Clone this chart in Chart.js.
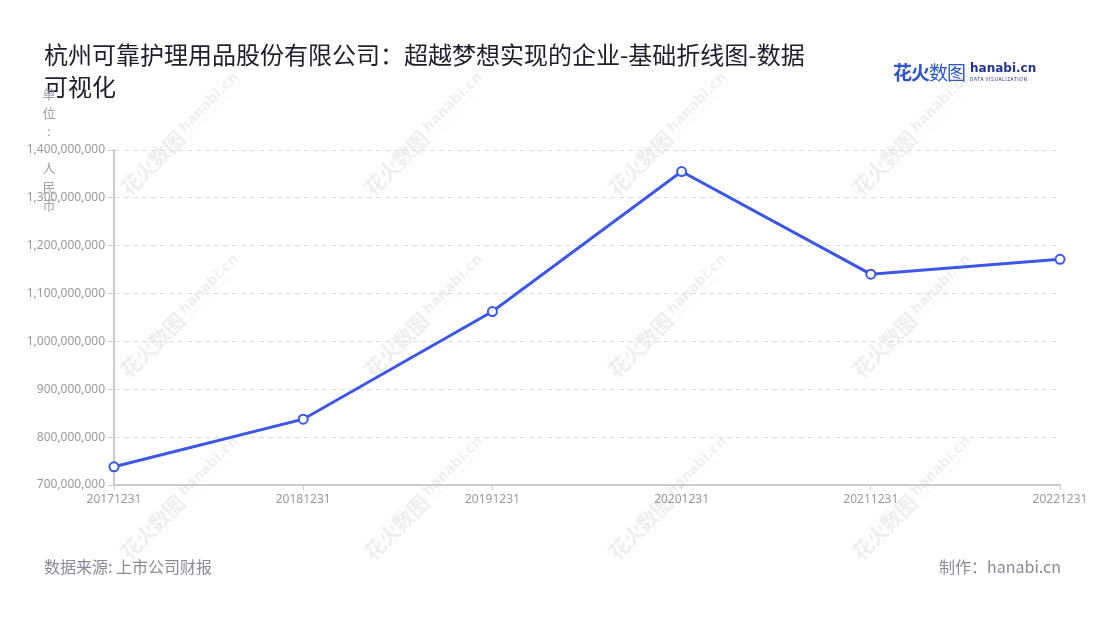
<!DOCTYPE html>
<html>
<head>
<meta charset="utf-8">
<script src="https://cdn.jsdelivr.net/npm/chart.js@4"></script>
<style>
    html, body { margin: 0; padding: 0; background: #fff; }
    body { width: 1100px; height: 620px; position: relative; overflow: hidden;
        font-family: "Noto Sans CJK SC", "Noto Sans", sans-serif; }
    #title { position: absolute; left: 44px; top: 38px; width: 780px; font-size: 24px;
        line-height: 32px; color: #1d1d2c; }
    #unit { position: absolute; left: 39px; top: 85px; width: 20px; font-size: 13px;
        line-height: 18.5px; color: #a0a0ae; text-align: center; }
    #unit span { display: block; height: 18.5px; }
    #source { position: absolute; left: 44px; top: 554px; font-size: 16px; color: #8a8a98; }
    #maker { position: absolute; right: 39px; top: 554px; font-size: 16px; color: #8a8a98; }
    #logo { position: absolute; left: 893px; top: 58px; display: flex; align-items: center; }
    #logo .cn { font-size: 19px; font-weight: bold; color: #2d55c8; letter-spacing: -1px; }
    #logo .cn em { font-style: normal; font-weight: normal; }
    #logo .en { margin-left: 5px; line-height: 1; }
    #logo .en b { display: block; font-family: "DejaVu Sans", sans-serif; font-size: 12px; color: #23348a; }
    #logo .en i { display: block; font-style: normal; font-size: 5px; color: #23348a; letter-spacing: 0.5px; margin-top: 2px; }
    .wm { position: absolute; width: 170px; margin-left: -85px; margin-top: -15px; transform: rotate(-45deg);
        color: rgba(0, 0, 0, 0.085); display: flex; align-items: center; white-space: nowrap; }
    .wm .cn { font-size: 21px; font-weight: bold; letter-spacing: -1px; }
    .wm .en { margin-left: 5px; line-height: 1; }
    .wm .en b { display: block; font-family: "DejaVu Sans", sans-serif; font-size: 14px; }
    .wm .en i { display: block; font-style: normal; font-size: 5px; letter-spacing: 0.5px; margin-top: 1px; }
    #wrap { position: absolute; left: 0; top: 0; width: 1100px; height: 620px; }
</style>
</head>
<body>
<div id="marks"></div>
<div id="wrap"><canvas id="lineChart"></canvas></div>
<div id="title">杭州可靠护理用品股份有限公司：超越梦想实现的企业-基础折线图-数据可视化</div>
<div id="unit"></div>
<div id="logo"><span class="cn">花火<em>数图</em></span><span class="en"><b>hanabi.cn</b><i>DATA VISUALIZATION</i></span></div>
<div id="source">数据来源: 上市公司财报</div>
<div id="maker">制作：hanabi.cn</div>
<script>
// Report dates and values (RMB)
const dates = ['20171231', '20181231', '20191231', '20201231', '20211231', '20221231'];
const amounts = [738000000, 837500000, 1062500000, 1355000000, 1140500000, 1171500000];
const yMin = 700000000;
const yMax = 1400000000;
const yStep = 100000000;
const unitText = '单位: 人民币';

// Vertical unit label, one character per line
const unit = document.getElementById('unit');
Array.from(unitText).forEach(ch => {
    const s = document.createElement('span');
    s.textContent = ch === ' ' ? '\u00a0' : ch;
    unit.appendChild(s);
});

// Watermark grid
const markCols = [183, 427, 671, 915];
const markRows = [131, 313, 495];
const marks = document.getElementById('marks');
markRows.forEach(y => {
    markCols.forEach(x => {
        const d = document.createElement('div');
        d.className = 'wm';
        d.style.left = x + 'px';
        d.style.top = y + 'px';
        d.innerHTML = '<span class="cn">花火数图</span><span class="en"><b>hanabi.cn</b><i>DATA VISUALIZATION</i></span>';
        marks.appendChild(d);
    });
});

Chart.defaults.font.family = "'Noto Sans', 'Noto Sans CJK SC', sans-serif";
Chart.defaults.animation = false;

const ctx = document.getElementById('lineChart').getContext('2d');
new Chart(ctx, {
    type: 'line',
    data: {
        labels: dates,
        datasets: [{
            data: amounts,
            borderColor: '#3b57e8',
            borderWidth: 3,
            tension: 0,
            pointRadius: 4.5,
            pointBorderWidth: 2,
            pointBackgroundColor: '#fff',
            pointBorderColor: '#3b57e8'
        }]
    },
    options: {
        responsive: true,
        maintainAspectRatio: false,
        layout: {
            padding: { left: 0, top: 150, right: 40, bottom: 105 }
        },
        scales: {
            x: {
                afterFit: s => { s.height = 30; },
                grid: {
                    drawOnChartArea: false,
                    drawTicks: true,
                    tickLength: 5,
                    color: '#cccccc'
                },
                border: { color: '#cccccc', width: 2 },
                ticks: {
                    color: '#9a9a9a',
                    font: { size: 12 },
                    padding: 2,
                    maxRotation: 0,
                    autoSkip: false
                }
            },
            y: {
                min: yMin,
                max: yMax,
                afterFit: s => { s.width = 114; },
                grid: {
                    color: '#dddddd',
                    tickLength: 6,
                    tickColor: '#cccccc'
                },
                border: { color: '#cccccc', width: 2, dash: [5, 4] },
                ticks: {
                    stepSize: yStep,
                    color: '#9a9a9a',
                    font: { size: 12 },
                    padding: 3,
                    callback: v => v.toLocaleString('en-US')
                }
            }
        },
        plugins: {
            legend: { display: false },
            tooltip: { enabled: false }
        }
    }
});
</script>
</body>
</html>
